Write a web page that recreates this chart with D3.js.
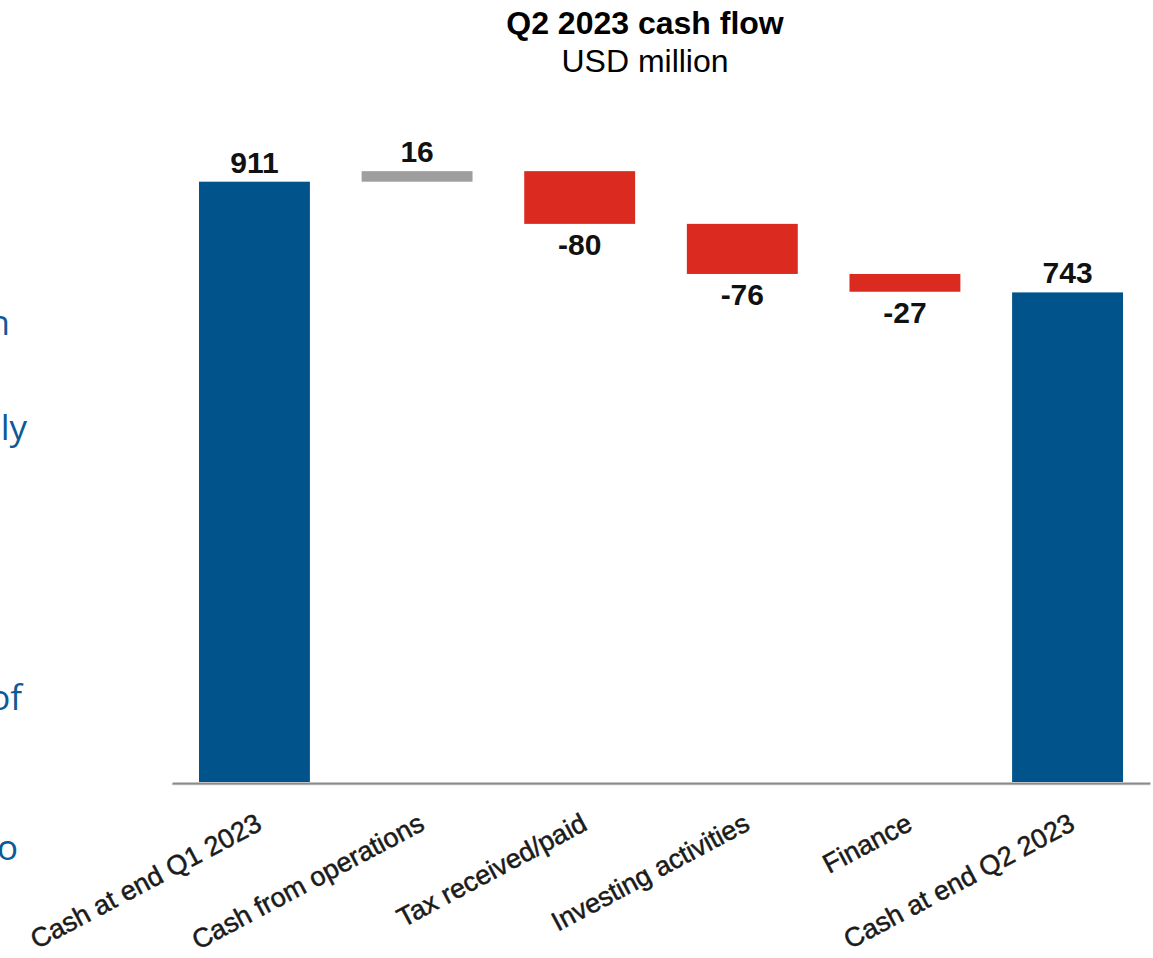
<!DOCTYPE html>
<html>
<head>
<meta charset="utf-8">
<script src="https://cdn.jsdelivr.net/npm/d3@7"></script>
<style>
  html, body { margin: 0; padding: 0; background: #fff; }
  svg { display: block; }
</style>
</head>
<body>
<script>
// Waterfall steps: opening balance, movements, closing balance (USD million)
const categories = ["Cash at end Q1 2023", "Cash from operations", "Tax received/paid",
                    "Investing activities", "Finance", "Cash at end Q2 2023"];
const values = [911, 16, -80, -76, -27, 743];
const kinds = ["total", "delta", "delta", "delta", "delta", "total"];
const valueLabels = ["911", "16", "-80", "-76", "-27", "743"];

// Slide body text running in from the left edge
const sideWords = ["in", "only", "of", "to"];
const sideBaselines = [335, 440, 710, 860];
const sideRightEdges = [10, 27, 22, 18];

const W = 1153, H = 958;
const svg = d3.select("body").append("svg").attr("width", W).attr("height", H);

const colors = { total: "#00548b", up: "#9e9e9e", down: "#db2a1f" };

// Build start/end of each bar from the running total
let running = 0;
const bars = values.map((v, i) => {
  let y0, y1;
  if (kinds[i] === "total") { y0 = 0; y1 = v; running = v; }
  else { y0 = running; y1 = running + v; running = y1; }
  return { cat: categories[i], v, kind: kinds[i], lo: Math.min(y0, y1), hi: Math.max(y0, y1), label: valueLabels[i] };
});

const x = d3.scaleBand().domain(categories).range([172, 1150]).paddingInner(0.318).paddingOuter(0.166);
const y = d3.scaleLinear().domain([0, 911]).range([782, 181.7]);

const fill = d => d.kind === "total" ? colors.total : (d.v >= 0 ? colors.up : colors.down);

// Bars
svg.append("g").selectAll("rect").data(bars).join("rect")
  .attr("x", d => x(d.cat))
  .attr("width", x.bandwidth())
  .attr("y", d => y(d.hi))
  .attr("height", d => y(d.lo) - y(d.hi))
  .attr("fill", fill);

// Baseline axis with a soft shadow under it
svg.append("line").attr("x1", 172).attr("x2", 1150).attr("y1", y(0) + 2.5).attr("y2", y(0) + 2.5)
  .attr("stroke", "#d0d0d0").attr("stroke-width", 1.5);
const axis = svg.append("g").attr("transform", `translate(0,${y(0) + 1})`)
  .call(d3.axisBottom(x).tickSize(0).tickPadding(0));
axis.select(".domain").attr("stroke", "#8a8a8a").attr("stroke-width", 2);
axis.selectAll(".tick text")
  .attr("font-family", "Liberation Sans, Arial, sans-serif")
  .attr("font-size", 27)
  .attr("fill", "#1a1a1a")
  .attr("stroke", "#1a1a1a")
  .attr("stroke-width", 0.5)
  .attr("text-anchor", "end")
  .attr("dy", 0)
  .attr("y", 0)
  .attr("transform", "translate(9,46) rotate(-28)");

// Value labels: above rising bars, below falling ones
svg.append("g").selectAll("text").data(bars).join("text")
  .attr("x", d => x(d.cat) + x.bandwidth() / 2)
  .attr("y", d => d.v >= 0 ? y(d.hi) - 9 : y(d.lo) + 31)
  .attr("text-anchor", "middle")
  .attr("font-family", "Liberation Sans, Arial, sans-serif")
  .attr("font-weight", "bold")
  .attr("font-size", 30)
  .attr("fill", "#111")
  .text(d => d.label);

// Title
svg.append("text").attr("x", 645).attr("y", 34).attr("text-anchor", "middle")
  .attr("font-family", "Liberation Sans, Arial, sans-serif").attr("font-weight", "bold")
  .attr("font-size", 32).attr("fill", "#000").text("Q2 2023 cash flow");
svg.append("text").attr("x", 645).attr("y", 72).attr("text-anchor", "middle")
  .attr("font-family", "Liberation Sans, Arial, sans-serif")
  .attr("font-size", 32).attr("fill", "#000").text("USD million");

// Left-hand slide text
svg.append("g").selectAll("text").data(sideWords).join("text")
  .attr("x", (d, i) => sideRightEdges[i])
  .attr("y", (d, i) => sideBaselines[i])
  .attr("text-anchor", "end")
  .attr("font-family", "Open Sans, sans-serif")
  .attr("font-size", 35)
  .attr("fill", "#0d5a97")
  .text(d => d);
</script>
</body>
</html>
